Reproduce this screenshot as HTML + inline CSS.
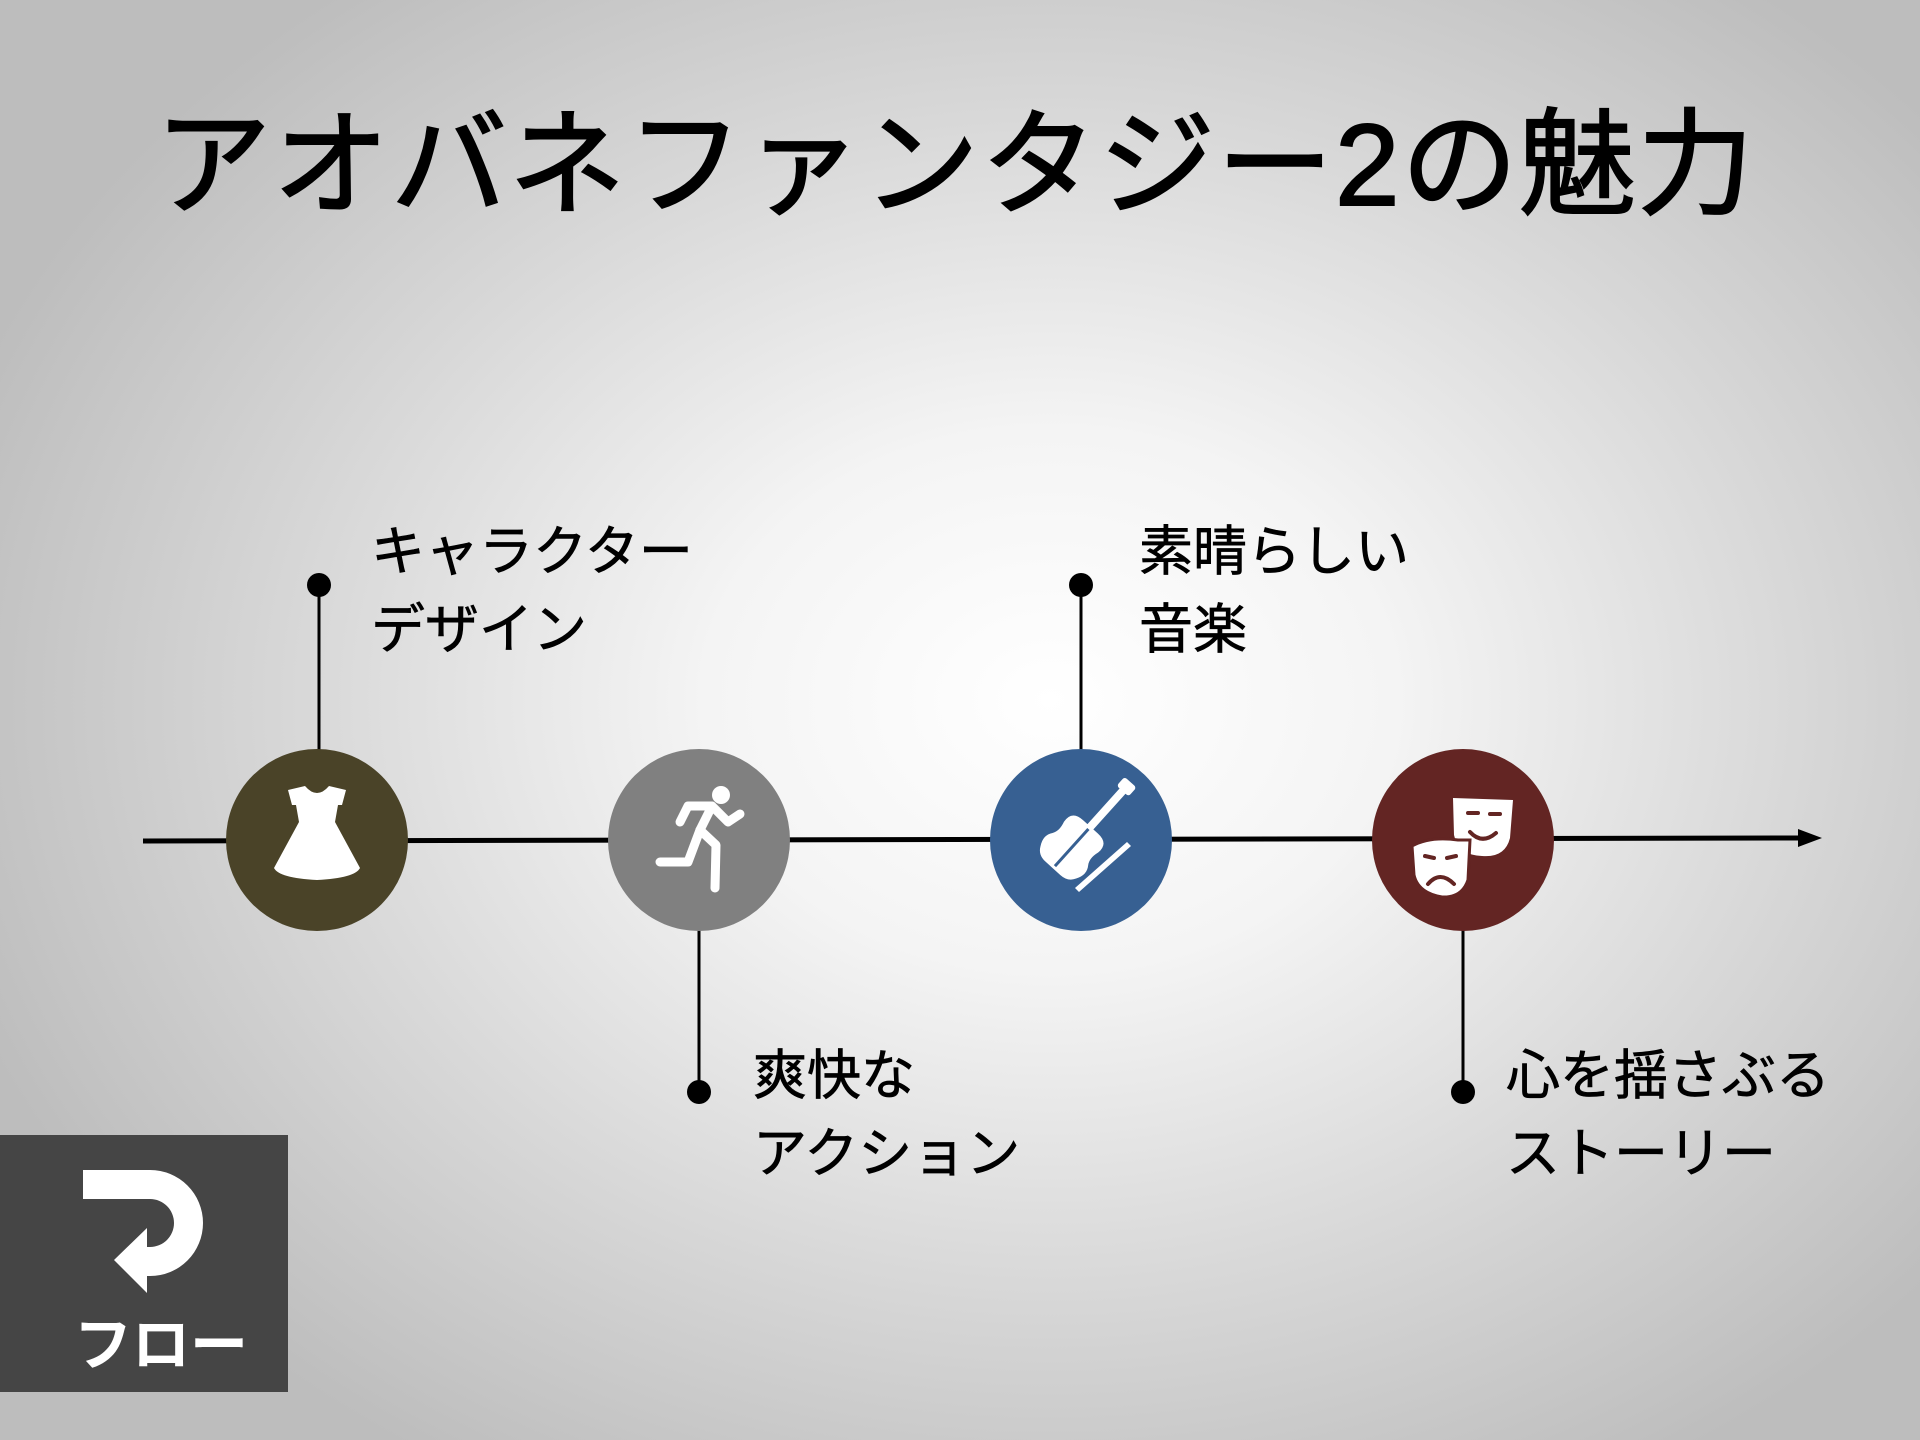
<!DOCTYPE html>
<html><head><meta charset="utf-8"><style>
html,body{margin:0;padding:0}
body{width:1920px;height:1440px;position:relative;overflow:hidden;
background:radial-gradient(ellipse 1150px 900px at 1050px 700px,#ffffff 0%,#f4f4f4 30%,#d8d8d8 65%,#bdbdbd 100%);
font-family:"Liberation Sans","Noto Sans CJK JP",sans-serif;}
.t{position:absolute;color:#000;white-space:nowrap}
.lbl{position:absolute;font-size:54px;line-height:78px;color:#000;white-space:nowrap;-webkit-text-stroke:0.7px #000;}
</style></head><body>
<div class="t" style="left:155px;top:95px;font-size:116px;line-height:140px;letter-spacing:2px;-webkit-text-stroke:2px #000;">アオバネファンタジー2の魅力</div>
<svg width="1920" height="1440" style="position:absolute;left:0;top:0">
<line x1="143" y1="841" x2="1805" y2="838" stroke="#000" stroke-width="5"/>
<polygon points="1822,838 1798,829 1798,847" fill="#000"/>
<g stroke="#000" stroke-width="3">
<line x1="319" y1="585" x2="319" y2="750"/>
<line x1="699" y1="930" x2="699" y2="1092"/>
<line x1="1081" y1="585" x2="1081" y2="750"/>
<line x1="1463" y1="930" x2="1463" y2="1092"/>
</g>
<g fill="#000">
<circle cx="319" cy="585" r="12"/><circle cx="699" cy="1092" r="12"/>
<circle cx="1081" cy="585" r="12"/><circle cx="1463" cy="1092" r="12"/>
</g>
<circle cx="317" cy="840" r="91" fill="#4a4328"/>
<circle cx="699" cy="840" r="91" fill="#808080"/>
<circle cx="1081" cy="840" r="91" fill="#376092"/>
<circle cx="1463" cy="840" r="91" fill="#632523"/>
<!-- dress -->
<path d="M288 790 L305 786 Q317 800 329 786 L346 790 L342 805 L338 805 L335 822 L360 868 Q355 878 317 880 Q279 878 274 868 L299 822 L296 805 L292 805 Z" fill="#fff"/>
<!-- runner -->
<g fill="none" stroke="#fff" stroke-width="9" stroke-linecap="round" stroke-linejoin="round">
<circle cx="721" cy="795" r="9" fill="#fff" stroke="none"/>
<path d="M680 822 L688 806 L712 806 L700 830 L688 862 L660 862"/>
<path d="M712 806 L728 822 L740 814"/>
<path d="M700 830 L716 845 L715 888"/>
</g>
<!-- violin -->
<g transform="translate(-5 5) rotate(42 1070 850)">
<g fill="#fff">
<path d="M1060 812 Q1045 812 1047 826 Q1050 836 1046 842 Q1040 850 1046 860 Q1050 868 1060 868 L1080 868 Q1090 868 1094 860 Q1100 850 1094 842 Q1090 836 1093 826 Q1095 812 1080 812 Z"/>
<rect x="1066" y="760" width="8" height="55"/>
<rect x="1062" y="752" width="16" height="12" rx="3"/>
</g>
<line x1="1070" y1="815" x2="1070" y2="865" stroke="#376092" stroke-width="3"/>
</g>
<path d="M1075 888 L1127 842 L1131 846 L1079 892 Z" fill="#fff"/>
<!-- masks -->
<path d="M1453 798 L1513 800 L1510 838 Q1505 858 1482 856 Q1458 855 1454 835 Z" fill="#fff"/>
<g stroke="#632523" stroke-width="4" fill="none" stroke-linecap="round">
<line x1="1468" y1="813" x2="1478" y2="813"/><line x1="1490" y1="814" x2="1500" y2="814"/>
<path d="M1470 832 Q1482 845 1496 833"/></g>
<path d="M1412 846 Q1430 836 1458 840 L1470 840 L1468 880 Q1462 898 1442 897 Q1418 893 1414 875 Z" fill="#fff" stroke="#632523" stroke-width="3"/>
<g stroke="#632523" stroke-width="4" fill="none" stroke-linecap="round">
<line x1="1425" y1="856" x2="1434" y2="858"/><line x1="1447" y1="858" x2="1456" y2="856"/>
<path d="M1428 884 Q1440 870 1454 884"/></g>
<!-- bottom box -->
<rect x="0" y="1135" width="288" height="257" fill="#454545"/>
<path d="M83 1170 L150 1170 A53 53 0 0 1 150 1276 L147 1276 L147 1293 L114 1260 L147 1228 L147 1247 L150 1247 A24 24 0 0 0 150 1199 L83 1199 Z" fill="#fff"/>
</svg>
<div class="t" style="left:74px;top:1312px;font-size:58px;line-height:68px;color:#fff;font-weight:bold;">フロー</div>
<div class="lbl" style="left:371px;top:513px;">キャラクター<br>デザイン</div>
<div class="lbl" style="left:1139px;top:513px;">素晴らしい<br>音楽</div>
<div class="lbl" style="left:753px;top:1037px;">爽快な<br>アクション</div>
<div class="lbl" style="left:1506px;top:1037px;">心を揺さぶる<br>ストーリー</div>
</body></html>
